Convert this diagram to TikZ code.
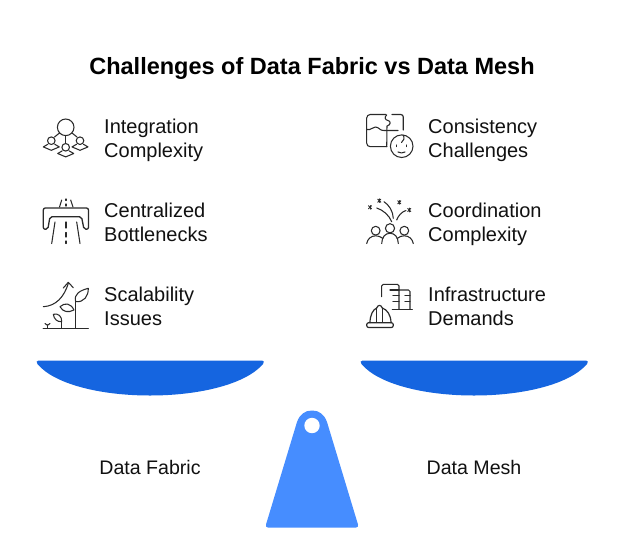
\documentclass[tikz,border=0pt]{standalone}
\usepackage{fontspec}
\setmainfont{Liberation Sans}
\definecolor{bowl}{HTML}{1565E0}
\definecolor{stand}{HTML}{468DFF}
\definecolor{ink}{HTML}{111111}
\definecolor{icn}{HTML}{2A2A2A}
\tikzset{
  lbl/.style={anchor=west,align=left,font=\fontsize{20}{24}\selectfont,text=ink,inner sep=0pt},
  pan/.style={anchor=center,font=\fontsize{19.6}{24}\selectfont,text=ink,inner sep=0pt},
  ttl/.style={anchor=center,font=\bfseries\fontsize{23.5}{28}\selectfont,text=black,inner sep=0pt},
  ico/.style={draw=icn,line width=1.05pt,line cap=round,line join=round}
}
\begin{document}
\begin{tikzpicture}[x=1pt,y=-1pt]
\useasboundingbox (0,0) rectangle (624,547);
\fill[white] (0,0) rectangle (624,547);
\node[ttl] (title) at (312,68.5) {Challenges of Data Fabric vs Data Mesh};
\node[lbl] (t1) at (104,140.5) {Integration\strut\\Complexity\strut};
\node[lbl] (t2) at (104,224.5) {Centralized\strut\\Bottlenecks\strut};
\node[lbl] (t3) at (104,308.5) {Scalability\strut\\Issues\strut};
\node[lbl] (t4) at (428,140.5) {Consistency\strut\\Challenges\strut};
\node[lbl] (t5) at (428,224.5) {Coordination\strut\\Complexity\strut};
\node[lbl] (t6) at (428,308.5) {Infrastructure\strut\\Demands\strut};
\node[pan] (p1) at (150,467.5) {Data Fabric};
\node[pan] (p2) at (474,467.5) {Data Mesh};
% bowls
\foreach \dx in {0,324}{
\begin{scope}[xshift=\dx pt]
\fill[bowl] (38.5,360.5) -- (262,360.5) .. controls (264,360.5) and (264.5,362.5) .. (263,364)
  .. controls (246,384) and (200,395.5) .. (150,395.5)
  .. controls (100,395.5) and (54,384) .. (37.5,364)
  .. controls (36,362.5) and (36.5,360.5) .. (38.5,360.5) -- cycle;
\end{scope}}
% stand
\fill[stand] (268,527.5) -- (356,527.5) .. controls (358,527.5) and (358.5,526) .. (358,524.5)
  -- (327,422) .. controls (324,414) and (319,410.5) .. (312,410.5)
  .. controls (305,410.5) and (300,414) .. (297,422)
  -- (266,524.5) .. controls (265.5,526) and (266,527.5) .. (268,527.5) -- cycle;
\fill[white] (312,425.5) circle (7.7);
% icon 1
\draw[ico] (65.7,127.3) circle (8.3);
\draw[ico,line width=1.4pt] (65.7,135.6) -- (65.7,143);
\draw[ico] (59.5,133) -- (54.5,137);
\draw[ico] (72,133) -- (77,137);
\foreach \cx/\cy in {51.3/140.7,80/140.7,65.7/147.3}{
  \draw[ico] (\cx,\cy) circle (3.8);
  \draw[ico] (\cx-3.5,\cy+3.6) -- (\cx-8,\cy+6.2) -- (\cx,\cy+9.6) -- (\cx+8,\cy+6.2) -- (\cx+3.5,\cy+3.6);
}
% icon 2
\draw[ico,line width=1.3pt,rounded corners=2pt] (43.3,208) -- (88.5,208) -- (88.5,229.3) -- (84,229.3)
   -- (81.5,216.7) -- (50,216.7) -- (47.8,229.3) -- (43.3,229.3) -- cycle;
\draw[ico] (61.7,200) -- (59.5,207);
\draw[ico] (70.7,200) -- (73,207);
\draw[ico] (66,199) -- (66,200.5);
\draw[ico] (66,204) -- (66,206);
\draw[ico] (55,222) -- (51.7,243.5);
\draw[ico] (76.7,222) -- (80,243.5);
\draw[ico,line width=1.3pt] (66,222) -- (66,228);
\draw[ico,line width=1.3pt] (66,232.5) -- (66,237);
\draw[ico,line width=1.3pt] (66,241) -- (66,243.5);
% icon 3
\draw[ico] (43.3,306.7) .. controls (56,306) and (64,297) .. (68.3,283.5);
\draw[ico] (63.3,288) -- (68.3,282.3) -- (73.3,287.7);
\draw[ico,line width=1.3pt] (43.3,328.5) -- (88.3,328.5);
\draw[ico] (75.7,328) -- (75.7,301.7);
\draw[ico] (75.7,301.7) .. controls (73.5,294) and (80,290.5) .. (88.3,288.3) .. controls (88.5,296) and (84,302.5) .. (75.7,301.7);
\draw[ico] (60,306.7) .. controls (65,302) and (71,303.5) .. (74,310) .. controls (68,313) and (63,312) .. (60,306.7);
\draw[ico] (61.7,328) -- (61.7,321.7);
\draw[ico] (53.3,314.3) .. controls (58,313) and (62,316) .. (61.7,321.7) .. controls (57,322) and (54,319) .. (53.3,314.3);
\draw[ico] (47.5,328) -- (47.5,325);
\draw[ico] (45,323.5) -- (47.5,325.3) -- (50,323.5);
% icon 4
\draw[ico,rounded corners=2.5pt,line width=1.15pt] (392,114.5) -- (403.3,114.5) -- (403.3,130);
\draw[ico,rounded corners=3.5pt] (386,114.5) -- (366.7,114.5) -- (366.7,146.7) -- (387,146.7);
\draw[ico] (367,129.5) .. controls (371,130.5) and (372,127) .. (375.5,127) .. controls (379,127) and (380,131) .. (384,130.5) -- (398,130.5);
\draw[ico] (386.7,115) .. controls (384,117) and (385,120) .. (388,120.5) .. controls (391,121) and (391,125) .. (387,126) -- (386.7,146.7);
\draw[ico] (401.7,146.2) circle (11.3);
\draw[ico] (403,135) .. controls (405,137.5) and (404,141) .. (401.5,142.5);
\draw[ico] (396.7,145) -- (396.7,146.5);
\draw[ico] (406.7,145) -- (406.7,146.5);
\draw[ico] (398,152) .. controls (400,153.3) and (403,153.3) .. (405,152);
% icon 5
\foreach \x/\y in {370/207.3,379.3/200.7,399.3/202.3,409.3/210}{
  \draw[ico,line width=.95pt] (\x-1.5,\y-1.5) -- (\x+1.5,\y+1.5);
  \draw[ico,line width=.95pt] (\x-1.5,\y+1.5) -- (\x+1.5,\y-1.5);
  \draw[ico,line width=.95pt] (\x,\y-1.8) -- (\x,\y+1.8);
}
\draw[ico] (376.7,208) .. controls (383,210) and (389,215) .. (391.7,221.7);
\draw[ico] (384,201.7) .. controls (389,205) and (393,211) .. (393.3,218.3);
\draw[ico] (396.7,220) .. controls (398,216) and (402,211.5) .. (406,210.5);
\draw[ico] (375.7,230.7) circle (4.4);
\draw[ico] (404.3,230.7) circle (4.4);
\draw[ico] (390,228.3) circle (4.6);
\draw[ico] (366.7,243.5) .. controls (367.5,239) and (371,235.8) .. (375.7,235.8) .. controls (378,235.8) and (380,236.5) .. (383,238.5);
\draw[ico] (381.7,243.5) .. controls (382,237) and (385,233.3) .. (390,233.3) .. controls (395,233.3) and (398,237) .. (398.3,243.5);
\draw[ico] (397,238.5) .. controls (399.5,236.5) and (402,235.8) .. (404.3,235.8) .. controls (409,235.8) and (412.5,239) .. (413.3,243.5);
% icon 6
\draw[ico,rounded corners=1.5pt] (381.7,296.7) -- (381.7,284.3) -- (399,284.3) -- (399,309);
\draw[ico,rounded corners=1.5pt] (399,290) -- (410,290) -- (410,309);
\draw[ico,line width=1.2pt] (392.3,309.3) -- (412.3,309.3);
\draw[ico] (390,290) -- (399,290);
\draw[ico] (393,295.7) -- (399,295.7);
\draw[ico] (393,301.7) -- (399,301.7);
\draw[ico] (405,295.7) -- (410,295.7);
\draw[ico] (405,301.7) -- (410,301.7);
\draw[ico,line width=1.2pt] (370,322.7) .. controls (370,315) and (373,309.5) .. (376.7,308) .. controls (378,304.5) and (381,304.5) .. (382.3,308)
   .. controls (387,309.5) and (391,315) .. (391,322.7);
\draw[ico] (376.7,308) -- (376.7,322);
\draw[ico] (382.3,308) -- (382.3,322);
\draw[ico,line width=1.2pt,rounded corners=2pt] (366.7,322.7) rectangle (393.3,327.5);
\end{tikzpicture}
\end{document}
